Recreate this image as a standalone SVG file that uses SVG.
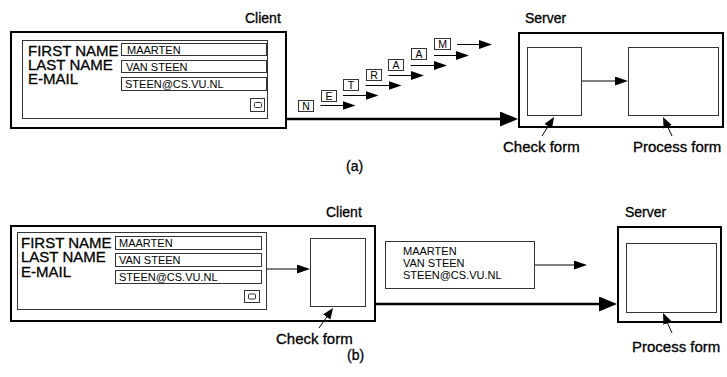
<svg xmlns="http://www.w3.org/2000/svg" width="727" height="377" viewBox="0 0 727 377">
<style>
  text { font-family: "Liberation Sans", Arial, sans-serif; fill: #000; }
  .lbl { font-size: 14px; stroke: #000; stroke-width: 0.3; }
  .form { font-size: 15px; stroke: #000; stroke-width: 0.3; }
  .fld { font-size: 11px; }
  .let { font-size: 10.5px; text-anchor: middle; }
  .outer { fill: #fff; stroke: #000; stroke-width: 2; }
  .thin { fill: #fff; stroke: #333; stroke-width: 1; }
  .ln { fill: none; stroke: #000; stroke-width: 1; }
  .thick { fill: none; stroke: #000; stroke-width: 2.5; }
</style>
<defs>
  <marker id="sm" markerUnits="userSpaceOnUse" markerWidth="14" markerHeight="10" refX="5" refY="4.5" orient="auto">
    <path d="M0,0 L13,4.5 L0,9 z" fill="#000"/>
  </marker>
  <marker id="lg" markerUnits="userSpaceOnUse" markerWidth="19" markerHeight="16" refX="8" refY="7.5" orient="auto">
    <path d="M0,0 L18,7.5 L0,15 z" fill="#000"/>
  </marker>
  <marker id="pt" markerUnits="userSpaceOnUse" markerWidth="12" markerHeight="10" refX="4" refY="4.5" orient="auto">
    <path d="M0,0 L11,4.5 L0,9 z" fill="#000"/>
  </marker>
</defs>

<!-- (a) -->
<g id="a-client">
  <rect class="outer" x="11" y="32" width="275" height="96"/>
  <rect class="thin" x="22.5" y="40.5" width="245" height="78"/>
  <text class="form" x="28" y="56">FIRST NAME</text>
  <text class="form" x="28" y="69.5">LAST NAME</text>
  <text class="form" x="28" y="83.5">E-MAIL</text>
  <rect class="thin" x="121.5" y="43.5" width="145" height="12"/>
  <rect class="thin" x="121.5" y="60.5" width="145" height="12"/>
  <rect class="thin" x="121.5" y="77.5" width="145" height="13"/>
  <text class="fld" x="127" y="53.5">MAARTEN</text>
  <text class="fld" x="126" y="70.5">VAN STEEN</text>
  <text class="fld" x="125" y="88">STEEN@CS.VU.NL</text>
  <rect class="thin" x="250.5" y="98.5" width="14" height="13"/>
  <rect class="thin" x="254.5" y="102.5" width="7" height="5" rx="1"/>
</g>
<text class="lbl" x="245" y="23">Client</text>

<g id="a-server">
  <rect class="outer" x="519" y="33" width="204" height="94"/>
  <rect class="thin" x="527.5" y="47.5" width="54" height="68"/>
  <rect class="thin" x="628.5" y="47.5" width="90" height="68"/>
</g>
<text class="lbl" x="525" y="23">Server</text>
<text class="form" x="503" y="152">Check form</text>
<text class="form" x="633" y="152">Process form</text>

<g id="a-letters">
  <rect class="thin" x="298.5" y="100.5" width="15" height="11"/>
  <text class="let" x="306" y="110">N</text>
  <rect class="thin" x="321.5" y="90.5" width="15" height="11"/>
  <text class="let" x="329" y="100">E</text>
  <rect class="thin" x="343.5" y="79.5" width="15" height="11"/>
  <text class="let" x="351" y="89">T</text>
  <rect class="thin" x="366.5" y="69.5" width="15" height="11"/>
  <text class="let" x="374" y="79">R</text>
  <rect class="thin" x="388.5" y="59.5" width="15" height="11"/>
  <text class="let" x="396" y="69">A</text>
  <rect class="thin" x="411.5" y="48.5" width="15" height="11"/>
  <text class="let" x="419" y="58">A</text>
  <rect class="thin" x="434.5" y="38.5" width="16" height="11"/>
  <text class="let" x="442.5" y="48">M</text>
</g>

<text class="lbl" x="346" y="171">(a)</text>

<!-- (b) -->
<g id="b-client">
  <rect class="outer" x="11" y="226" width="364" height="95"/>
  <rect class="thin" x="17.5" y="232.5" width="249" height="77"/>
  <text class="form" x="21" y="248">FIRST NAME</text>
  <text class="form" x="21" y="262">LAST NAME</text>
  <text class="form" x="21" y="276.5">E-MAIL</text>
  <rect class="thin" x="115.5" y="236.5" width="146" height="13"/>
  <rect class="thin" x="115.5" y="253.5" width="146" height="13"/>
  <rect class="thin" x="115.5" y="270.5" width="146" height="13"/>
  <text class="fld" x="119" y="247">MAARTEN</text>
  <text class="fld" x="119" y="264">VAN STEEN</text>
  <text class="fld" x="119" y="281">STEEN@CS.VU.NL</text>
  <rect class="thin" x="244.5" y="290.5" width="15" height="12"/>
  <rect class="thin" x="248.5" y="294" width="7" height="5" rx="1"/>
  <rect class="thin" x="310.5" y="238.5" width="55" height="68"/>
</g>
<text class="lbl" x="326" y="217">Client</text>
<text class="form" x="276" y="344">Check form</text>

<g id="b-message">
  <rect class="thin" x="385.5" y="241.5" width="149" height="47"/>
  <text class="fld" x="403" y="255">MAARTEN</text>
  <text class="fld" x="403" y="267">VAN STEEN</text>
  <text class="fld" x="403" y="279">STEEN@CS.VU.NL</text>
</g>

<g id="b-server">
  <rect class="outer" x="618" y="227" width="103" height="95"/>
  <rect class="thin" x="626.5" y="243.5" width="90" height="69"/>
</g>
<text class="lbl" x="625" y="217">Server</text>
<text class="form" x="632" y="352">Process form</text>

<text class="lbl" x="347" y="360">(b)</text>

<g id="connectors">
  <!-- (a) -->
  <line class="thick" x1="286" y1="119" x2="508" y2="119" marker-end="url(#lg)"/>
  <line class="ln" x1="582" y1="81" x2="620" y2="81" marker-end="url(#sm)"/>
  <line class="ln" x1="542" y1="136" x2="550.3" y2="122.9" marker-end="url(#pt)"/>
  <line class="ln" x1="672" y1="136" x2="666" y2="123.3" marker-end="url(#pt)"/>
  <line class="ln" x1="320.5" y1="105.5" x2="347.5" y2="105.5" marker-end="url(#sm)"/>
  <line class="ln" x1="343" y1="95.5" x2="370.5" y2="95.5" marker-end="url(#sm)"/>
  <line class="ln" x1="365.5" y1="85.5" x2="393.5" y2="85.5" marker-end="url(#sm)"/>
  <line class="ln" x1="388.5" y1="75.5" x2="416" y2="75.5" marker-end="url(#sm)"/>
  <line class="ln" x1="410.5" y1="65.5" x2="439" y2="65.5" marker-end="url(#sm)"/>
  <line class="ln" x1="434" y1="55.5" x2="461" y2="55.5" marker-end="url(#sm)"/>
  <line class="ln" x1="457" y1="44.5" x2="484" y2="44.5" marker-end="url(#sm)"/>
  <!-- (b) -->
  <line class="ln" x1="267" y1="269" x2="302" y2="269" marker-end="url(#sm)"/>
  <line class="ln" x1="535" y1="265" x2="579" y2="265" marker-end="url(#sm)"/>
  <line class="thick" x1="375" y1="304" x2="607" y2="304" marker-end="url(#lg)"/>
  <line class="ln" x1="319" y1="328" x2="329" y2="313.7" marker-end="url(#pt)"/>
  <line class="ln" x1="672" y1="333" x2="665.9" y2="319.4" marker-end="url(#pt)"/>
</g>
</svg>
